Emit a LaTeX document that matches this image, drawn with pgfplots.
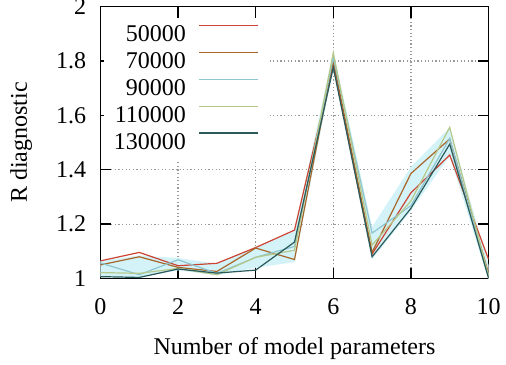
\documentclass[border=0pt]{standalone}
\usepackage{pgfplots}
\pgfplotsset{compat=1.18}
\usepgfplotslibrary{fillbetween}
\usepackage{pgfplotstable}
\usepackage{fontspec}
\setmainfont{Liberation Serif}
\definecolor{cA}{RGB}{204,68,51}
\definecolor{cB}{RGB}{168,102,42}
\definecolor{cC}{RGB}{142,197,207}
\definecolor{cD}{RGB}{181,201,138}
\definecolor{cE}{RGB}{42,90,90}
\definecolor{band}{RGB}{212,243,249}
\pgfplotstableread{
x  a     b     c     d     e     lo     hi
0  1.065 1.050 1.057 1.022 1.007 1.005 1.065
1  1.096 1.080 1.014 1.019 1.004 1.005 1.085
2  1.047 1.041 1.069 1.037 1.035 1.030 1.075
3  1.056 1.026 1.019 1.014 1.020 1.012 1.055
4  1.114 1.112 1.078 1.078 1.031 1.040 1.115
5  1.178 1.070 1.118 1.104 1.134 1.060 1.175
6  1.785 1.800 1.812 1.830 1.776 1.770 1.835
7  1.090 1.096 1.167 1.123 1.080 1.070 1.190
8  1.315 1.386 1.268 1.285 1.258 1.250 1.410
9  1.454 1.513 1.515 1.556 1.494 1.450 1.555
10 1.071 1.020 1.010 1.010 1.002 0.995 1.050
}\data
\begin{document}
\fontsize{12}{14}\selectfont
\begin{tikzpicture}
\begin{axis}[
  scale only axis, width=194pt, height=136pt,
  xmin=0, xmax=10, ymin=1, ymax=2,
  xtick={0,2,4,6,8,10}, ytick={1,1.2,1.4,1.6,1.8,2},
  /pgf/number format/assume math mode=true,
  tick align=inside, major tick length=5.5pt,
  axis line style={line width=0.7pt},
  every tick/.style={black, line width=0.7pt},
  grid=major, grid style={black!40, line width=0.6pt, dash pattern=on 0.6pt off 1.2pt},
  xlabel={Number of model parameters}, ylabel={R diagnostic},
  xlabel style={at={(axis description cs:0.5,-0.281)}, anchor=base},
  ylabel style={at={(axis description cs:-0.19,0.5)}, anchor=base},
  xticklabel style={anchor=base, yshift=-17.8pt},
  yticklabel style={inner xsep=0pt, xshift=-7pt},
  legend plot pos=right, legend cell align=right,
  legend style={draw=none, fill=white, at={(axis description cs:0.0077,0.960)}, anchor=north west,
    inner xsep=5pt, inner ysep=3pt, row sep=1.4pt, column sep=6.5pt,
    nodes={inner sep=0pt, text height=9pt, text depth=3pt}},
  legend image code/.code={\draw[#1] (0pt,5pt) -- (29.5pt,5pt);},
]
\addplot[draw=none, name path=lo, forget plot] table[x=x, y=lo] {\data};
\addplot[draw=none, name path=hi, forget plot] table[x=x, y=hi] {\data};
\addplot[band, forget plot] fill between[of=lo and hi];
\addplot[cA, line width=0.6pt] table[x=x, y=a] {\data};
\addlegendentry{50000}
\addplot[cB, line width=0.6pt] table[x=x, y=b] {\data};
\addlegendentry{70000}
\addplot[cC, line width=0.6pt] table[x=x, y=c] {\data};
\addlegendentry{90000}
\addplot[cD, line width=0.6pt] table[x=x, y=d] {\data};
\addlegendentry{110000}
\addplot[cE, line width=0.6pt] table[x=x, y=e] {\data};
\addlegendentry{130000}
\coordinate (bbl) at (axis description cs:-0.259,-0.3143);
\coordinate (btr) at (axis description cs:1.0451,1.024);
\end{axis}
\pgfresetboundingbox
\path[use as bounding box] (bbl) rectangle (btr);
\end{tikzpicture}
\end{document}
